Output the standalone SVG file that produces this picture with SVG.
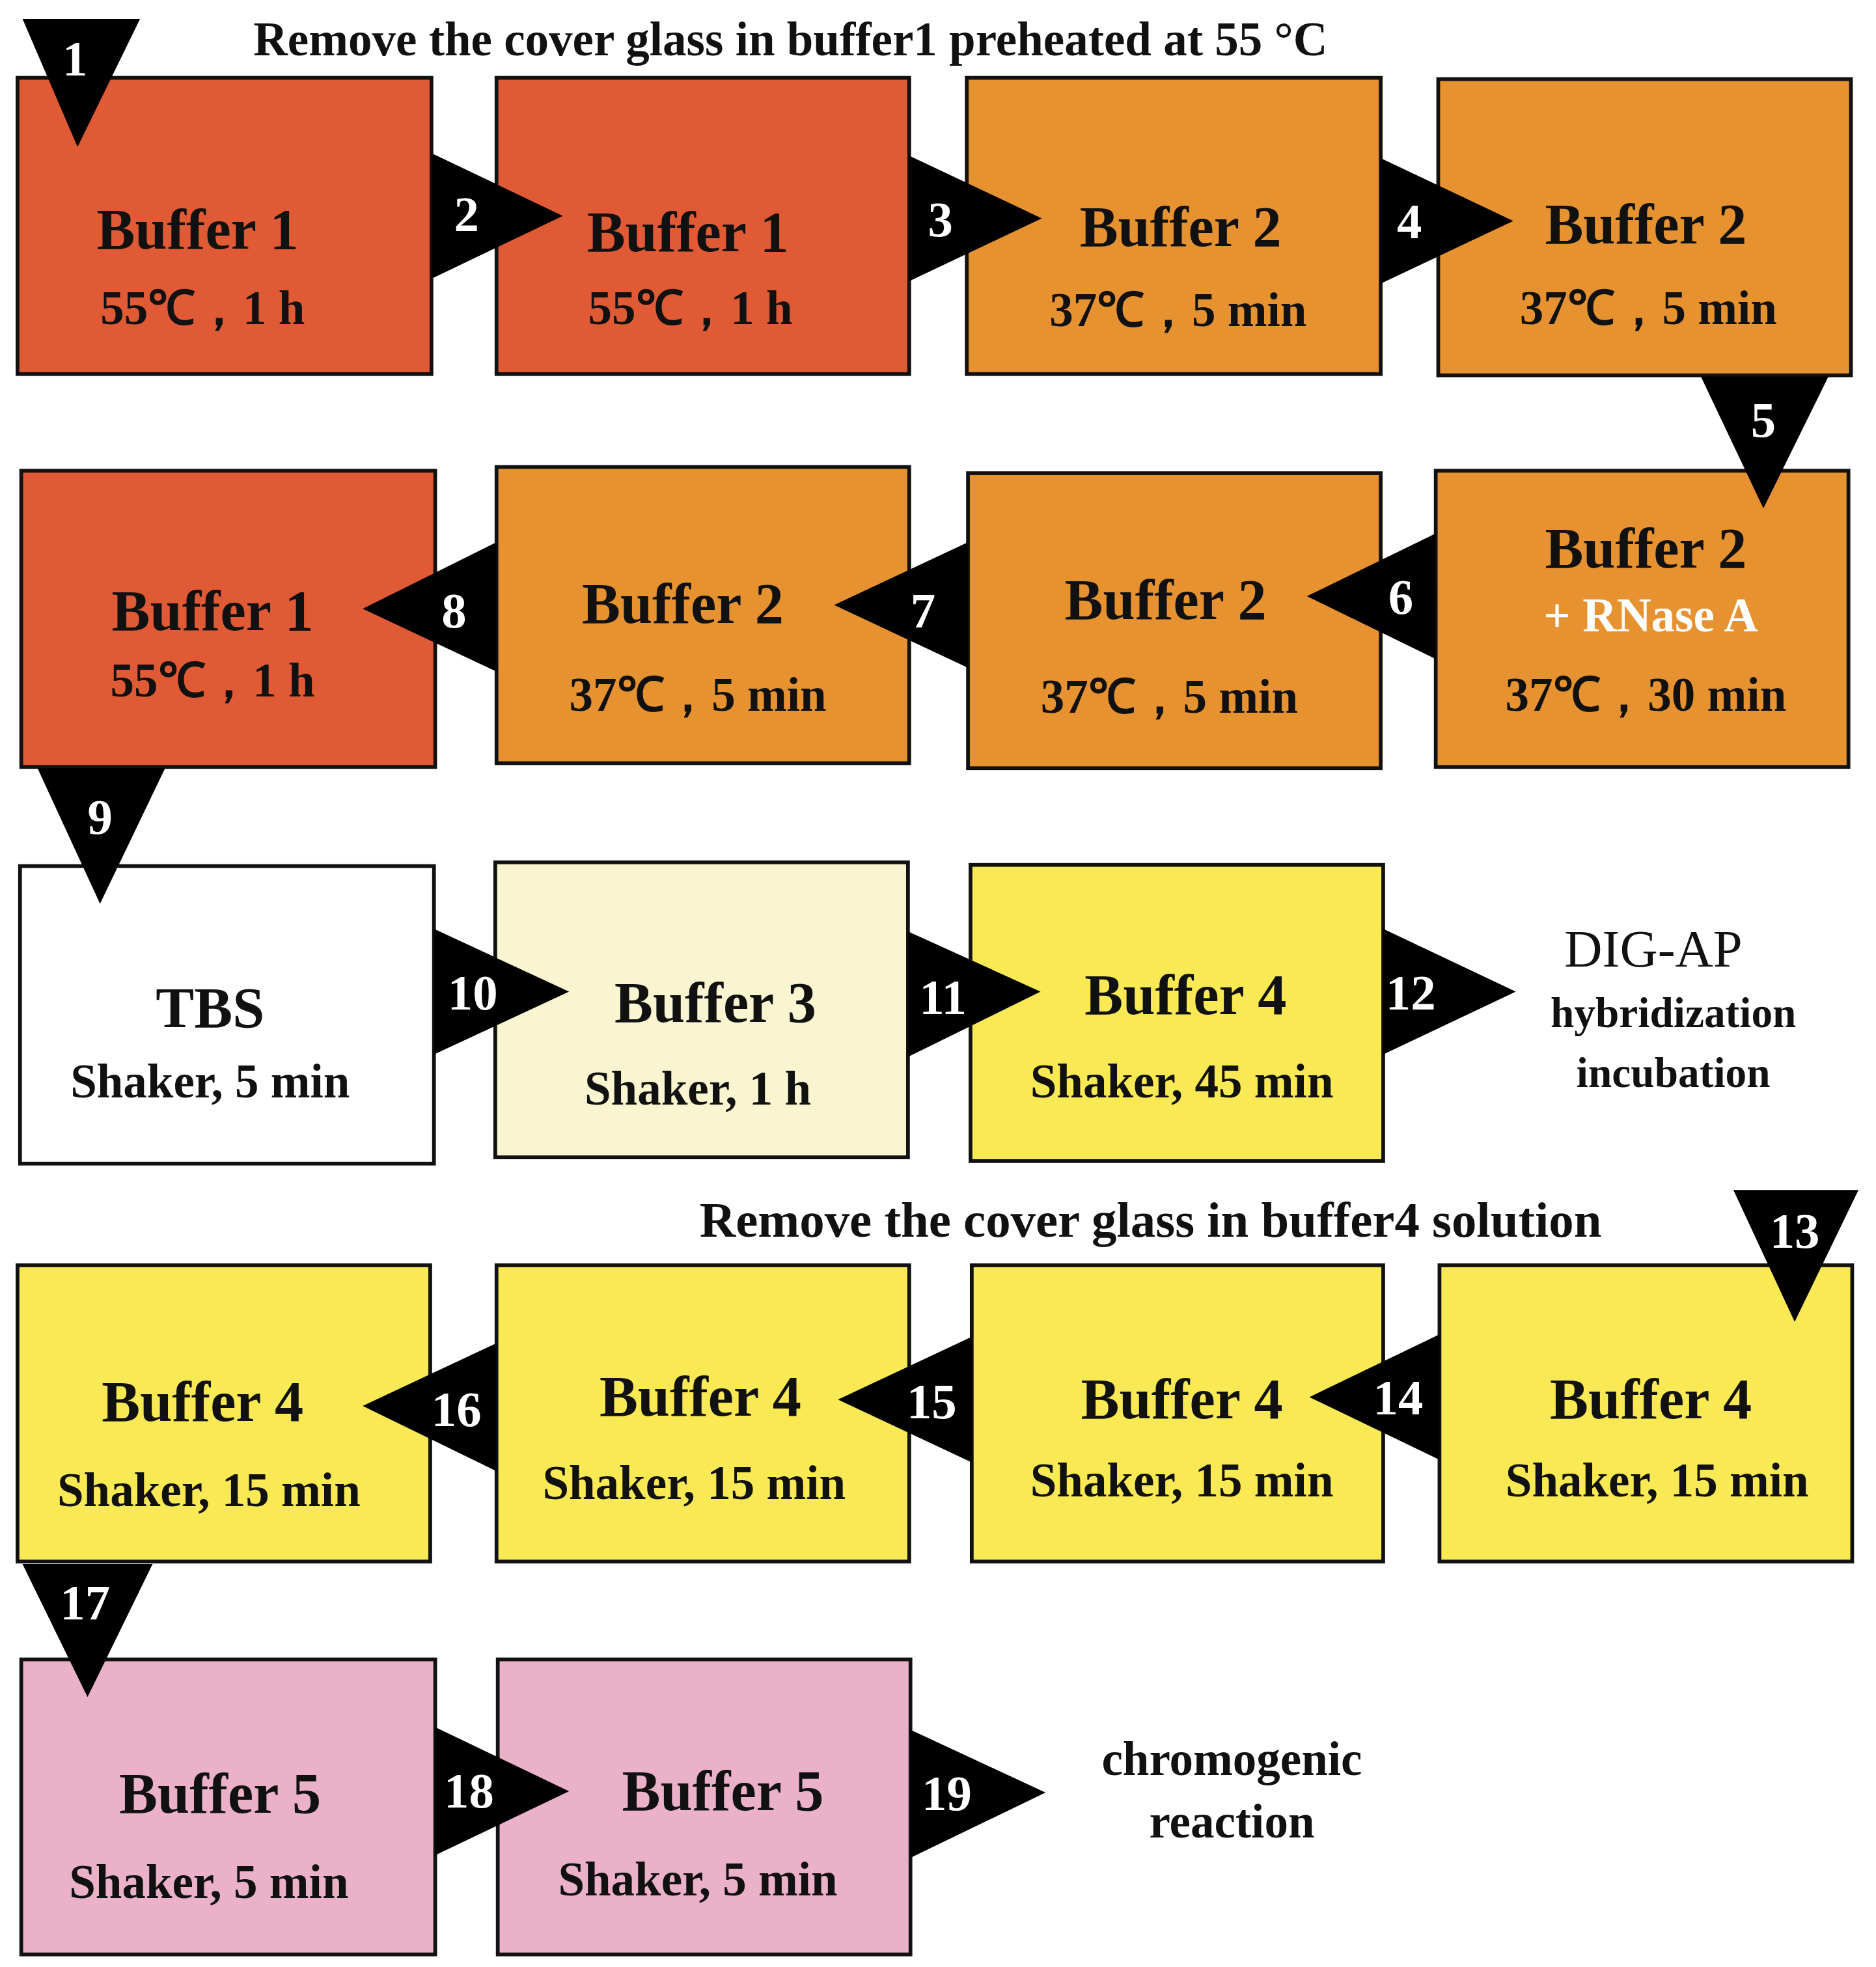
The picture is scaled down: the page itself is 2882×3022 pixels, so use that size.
<svg xmlns="http://www.w3.org/2000/svg" width="2882" height="3022" viewBox="0 0 2882 3022">
<style>
.b{stroke:#111;stroke-width:3}
.t{font-family:"Liberation Serif",serif;font-weight:bold;text-anchor:middle;fill:#111}
.h{font-size:46px}
.s{font-size:38px}
.n{font-family:"Liberation Serif",serif;font-weight:bold;text-anchor:middle;fill:#fff;font-size:40px}
.r{fill:#E05A35}.o{fill:#E69230}.w{fill:#fff}.p{fill:#F8F5D0}.y{fill:#F9E955}.k{fill:#EAB1C9}
</style>
<rect width="2882" height="3022" fill="#fff"/>
<g transform="scale(1.9213,1.9285)">
<text class="t" x="632" y="44" style="font-size:38px">Remove the cover glass in buffer1 preheated at 55 °C</text>
<text class="t" x="920" y="985" style="font-size:40px">Remove the cover glass in buffer4 solution</text>
<g id="n1"><rect class="b r" x="14" y="62" width="331" height="236"/><text class="t h" x="158" y="198">Buffer 1</text><text class="t s" x="162" y="258">55℃，1 h</text></g>
<g id="n2"><rect class="b r" x="397" y="62" width="330" height="236"/><text class="t h" x="550" y="200">Buffer 1</text><text class="t s" x="552" y="258">55℃，1 h</text></g>
<g id="n3"><rect class="b o" x="773" y="62" width="331" height="236"/><text class="t h" x="944" y="196">Buffer 2</text><text class="t s" x="942" y="260">37℃，5 min</text></g>
<g id="n4"><rect class="b o" x="1150" y="63" width="330" height="236"/><text class="t h" x="1316" y="194">Buffer 2</text><text class="t s" x="1318" y="258">37℃，5 min</text></g>
<g id="n5"><rect class="b o" x="1148" y="375" width="330" height="236"/><text class="t h" x="1316" y="452">Buffer 2</text><text class="t" x="1320" y="503" style="font-size:38px;fill:#fff">+ RNase A</text><text class="t s" x="1316" y="566">37℃，30 min</text></g>
<g id="n6"><rect class="b o" x="774" y="377" width="330" height="235"/><text class="t h" x="932" y="493">Buffer 2</text><text class="t s" x="935" y="568">37℃，5 min</text></g>
<g id="n7"><rect class="b o" x="397" y="372" width="330" height="236"/><text class="t h" x="546" y="496">Buffer 2</text><text class="t s" x="558" y="566">37℃，5 min</text></g>
<g id="n8"><rect class="b r" x="17" y="375" width="331" height="236"/><text class="t h" x="170" y="502">Buffer 1</text><text class="t s" x="170" y="555">55℃，1 h</text></g>
<g id="n9"><rect class="b w" x="16" y="690" width="331" height="237"/><text class="t h" x="168" y="818">TBS</text><text class="t s" x="168" y="874">Shaker, 5 min</text></g>
<g id="n10"><rect class="b p" x="396" y="687" width="330" height="235"/><text class="t h" x="572" y="814">Buffer 3</text><text class="t s" x="558" y="880">Shaker, 1 h</text></g>
<g id="n11"><rect class="b y" x="776" y="689" width="330" height="236"/><text class="t h" x="948" y="808">Buffer 4</text><text class="t s" x="945" y="874">Shaker, 45 min</text></g>
<g id="n12"><text class="t" x="1322" y="770" style="font-size:42px;font-weight:normal">DIG-AP</text><text class="t s" x="1338" y="818" style="font-size:34px">hybridization</text><text class="t s" x="1338" y="866" style="font-size:34px">incubation</text></g>
<g id="n13"><rect class="b y" x="1151" y="1008" width="330" height="236"/><text class="t h" x="1320" y="1130">Buffer 4</text><text class="t s" x="1325" y="1192">Shaker, 15 min</text></g>
<g id="n14"><rect class="b y" x="777" y="1008" width="329" height="236"/><text class="t h" x="945" y="1130">Buffer 4</text><text class="t s" x="945" y="1192">Shaker, 15 min</text></g>
<g id="n15"><rect class="b y" x="397" y="1008" width="330" height="236"/><text class="t h" x="560" y="1128">Buffer 4</text><text class="t s" x="555" y="1194">Shaker, 15 min</text></g>
<g id="n16"><rect class="b y" x="14" y="1008" width="330" height="236"/><text class="t h" x="162" y="1132">Buffer 4</text><text class="t s" x="167" y="1200">Shaker, 15 min</text></g>
<g id="n17"><rect class="b k" x="17" y="1322" width="331" height="235"/><text class="t h" x="176" y="1444">Buffer 5</text><text class="t s" x="167" y="1512">Shaker, 5 min</text></g>
<g id="n18"><rect class="b k" x="398" y="1322" width="330" height="235"/><text class="t h" x="578" y="1442">Buffer 5</text><text class="t s" x="558" y="1510">Shaker, 5 min</text></g>
<g id="n19"><text class="t" x="985" y="1414" style="font-size:38px">chromogenic</text><text class="t" x="985" y="1464" style="font-size:38px">reaction</text></g>
<g id="connectors" fill="#000">
<polygon points="18,15 112,15 62,117"/><text class="n" x="60" y="60">1</text>
<polygon points="345,122 345,222 450,172"/><text class="n" x="373" y="184">2</text>
<polygon points="727,124 727,224 833,174"/><text class="n" x="752" y="188">3</text>
<polygon points="1104,126 1104,226 1210,176"/><text class="n" x="1127" y="190">4</text>
<polygon points="1360,300 1462,300 1410,405"/><text class="n" x="1410" y="348">5</text>
<polygon points="1148,425 1148,525 1045,475"/><text class="n" x="1120" y="489">6</text>
<polygon points="774,432 774,532 667,482"/><text class="n" x="738" y="500">7</text>
<polygon points="397,432 397,535 290,485"/><text class="n" x="363" y="500">8</text>
<polygon points="30,612 132,612 80,720"/><text class="n" x="80" y="664">9</text>
<polygon points="347,740 347,840 455,790"/><text class="n" x="378" y="804">10</text>
<polygon points="726,742 726,842 832,790"/><text class="n" x="754" y="808">11</text>
<polygon points="1106,740 1106,840 1212,790"/><text class="n" x="1128" y="804">12</text>
<polygon points="1386,948 1486,948 1435,1053"/><text class="n" x="1435" y="994">13</text>
<polygon points="1151,1063 1151,1163 1047,1113"/><text class="n" x="1118" y="1127">14</text>
<polygon points="777,1065 777,1165 670,1115"/><text class="n" x="745" y="1130">15</text>
<polygon points="397,1070 397,1172 290,1120"/><text class="n" x="365" y="1136">16</text>
<polygon points="18,1246 122,1246 70,1352"/><text class="n" x="68" y="1290">17</text>
<polygon points="348,1376 348,1478 455,1427"/><text class="n" x="375" y="1440">18</text>
<polygon points="728,1378 728,1480 836,1428"/><text class="n" x="757" y="1442">19</text>
</g>
</g>
</svg>
